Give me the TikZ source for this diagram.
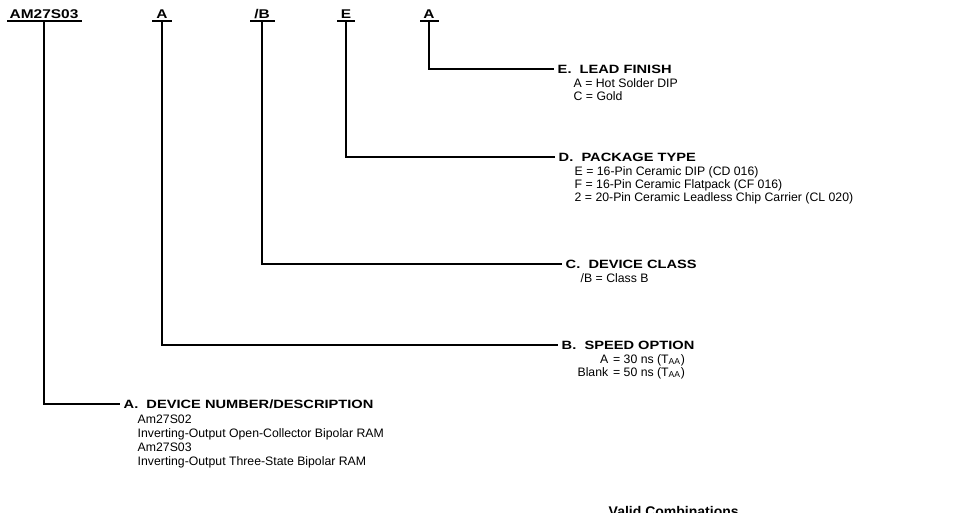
\documentclass[tikz,border=0pt]{standalone}
\usepackage{fontspec}
\setmainfont{Liberation Sans}
\newfontfamily\widebold{Liberation Sans}[FakeStretch=1.22]
\begin{document}
\begin{tikzpicture}[x=0.75pt,y=-0.75pt,line width=1.1pt,
  code/.style={font=\widebold\bfseries\fontsize{9.5}{10}\selectfont,inner sep=0pt,anchor=base},
  head/.style={font=\widebold\bfseries\fontsize{9}{10}\selectfont,inner sep=0pt,anchor=base west},
  body/.style={font=\fontsize{9.2}{10}\selectfont,inner sep=0pt,anchor=base west},
  lead/.style={line width=1.1pt}]
\useasboundingbox (0,0) rectangle (964,512);
% top code letters
\node[code] (c1) at (44,18) {AM27S03};
\node[code] (c2) at (162,18) {A};
\node[code] (c3) at (262,18) {/B};
\node[code] (c4) at (346,18) {E};
\node[code] (c5) at (429,18) {A};
\draw[lead] (7,21) -- (82,21);
\draw[lead] (152,21) -- (172,21);
\draw[lead] (250,21) -- (275,21);
\draw[lead] (337,21) -- (355,21);
\draw[lead] (420,21) -- (439,21);
% corners
\coordinate (k1) at (44,404);
\coordinate (k2) at (162,345);
\coordinate (k3) at (262,264);
\coordinate (k4) at (346,157);
\coordinate (k5) at (429,69);
% E block
\node[head] (hE) at (557,73) {E.\ \ LEAD FINISH};
\node[body] (e1) at (573,87) {A = Hot Solder DIP};
\node[body] (e2) at (573,100) {C = Gold};
% D block
\node[head] (hD) at (558,161) {D.\ \ PACKAGE TYPE};
\node[body] (d1) at (574,175) {E = 16-Pin Ceramic DIP (CD 016)};
\node[body] (d2) at (574,188) {F = 16-Pin Ceramic Flatpack (CF 016)};
\node[body] (d3) at (574,201) {2 = 20-Pin Ceramic Leadless Chip Carrier (CL 020)};
% C block
\node[head] (hC) at (565,268) {C.\ \ DEVICE CLASS};
\node[body] (c1b) at (580,282) {/B = Class B};
% B block
\node[head] (hB) at (561,349) {B.\ \ SPEED OPTION};
\node[body,anchor=base east] (b1l) at (609,363) {A};
\node[body] (b1) at (609,363) {\ = 30 ns (T\textsubscript{AA})};
\node[body,anchor=base east] (b2l) at (609,376) {Blank};
\node[body] (b2) at (609,376) {\ = 50 ns (T\textsubscript{AA})};
% A block
\node[head] (hA) at (123,408) {A.\ \ DEVICE NUMBER/DESCRIPTION};
\node[body] (a1) at (137,423) {Am27S02};
\node[body] (a2) at (137,437) {Inverting-Output Open-Collector Bipolar RAM};
\node[body] (a3) at (137,451) {Am27S03};
\node[body] (a4) at (137,465) {Inverting-Output Three-State Bipolar RAM};
% connectors
\draw[lead] (c1.base |- 0,21) -- (k1) -- ([xshift=-2]hA.west |- k1);
\draw[lead] (c2.base |- 0,21) -- (k2) -- ([xshift=-2]hB.west |- k2);
\draw[lead] (c3.base |- 0,21) -- (k3) -- ([xshift=-2]hC.west |- k3);
\draw[lead] (c4.base |- 0,21) -- (k4) -- ([xshift=-2]hD.west |- k4);
\draw[lead] (c5.base |- 0,21) -- (k5) -- ([xshift=-2]hE.west |- k5);
% bottom heading (cut by the page edge, as in the reference)
\node[head,font=\bfseries\fontsize{10.5}{12}\selectfont] (vc) at (608,516) {Valid Combinations};
\end{tikzpicture}
\end{document}
